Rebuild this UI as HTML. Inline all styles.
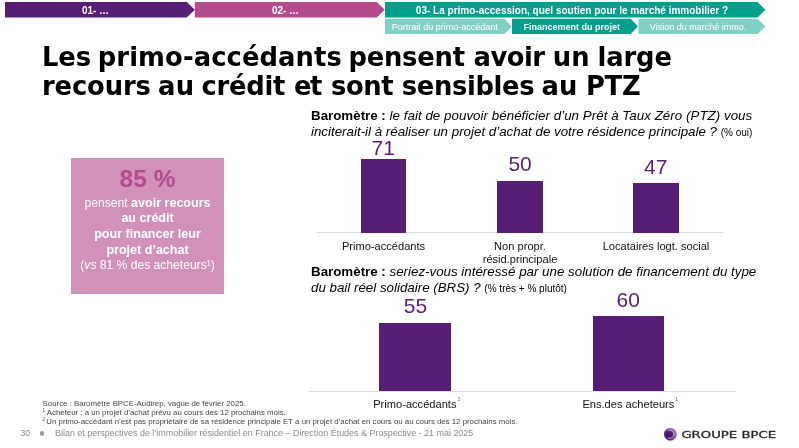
<!DOCTYPE html>
<html lang="fr">
<head>
<meta charset="utf-8">
<title>Les primo-accédants – Groupe BPCE</title>
<style>
*{margin:0;padding:0;box-sizing:border-box}
html,body{width:799px;height:448px;overflow:hidden;background:#fff}
body{position:relative;font-family:"Liberation Sans",sans-serif;color:#000}
svg{position:absolute;left:0;top:0}
.nav{font-weight:bold;font-size:10px;fill:#fff;text-anchor:middle}
.sub{font-size:9px;fill:#fff;text-anchor:middle}
h1{position:absolute;left:0;top:42.7px;width:799px;height:60px;font-family:"DejaVu Sans","Liberation Sans",sans-serif;font-weight:bold;font-size:25.8px;line-height:28.7px;white-space:nowrap}
h1 span{position:absolute}
.q{position:absolute;left:311px;font-size:13.33px;line-height:16.3px;white-space:nowrap}
.q small{font-size:10px}
.val{position:absolute;font-size:21px;color:#5a1e78;text-align:center;width:60px;line-height:20px;white-space:nowrap}
.bar{position:absolute;background:#581d74}
.axis{position:absolute;height:1px;background:#dedede}
.cat{position:absolute;font-size:11.1px;line-height:12.8px;text-align:center;width:160px;color:#111}
.cat sup{font-size:5.2px;color:#8464a6;vertical-align:top;position:relative;top:-1px;left:1px;line-height:1}
.box{position:absolute;left:71.1px;top:157.9px;width:152.9px;height:135.9px;background:#d291b9;color:#fff;text-align:center}
.box .big{position:absolute;left:0;right:0;top:164.5px;font-size:24.5px;font-weight:bold;color:#b44b8c;line-height:28px}
.box .txt{position:absolute;left:0;right:0;font-size:12.55px;line-height:15.65px}
.foot{position:absolute;left:42.6px;font-size:7.84px;color:#444;line-height:9.2px;white-space:nowrap}
.foot sup{font-size:4.5px;vertical-align:top;line-height:1;position:relative;top:1px}
.foot2{position:absolute;left:0;top:427px;font-size:8.95px;color:#8c8c8c;white-space:nowrap;line-height:12px;width:540px;height:12px}
.foot2 span{position:absolute;top:0}
</style>
</head>
<body>
<svg width="799" height="448" viewBox="0 0 799 448">
  <polygon points="5,2 186.7,2 194.8,9.75 186.7,17.5 5,17.5" fill="#581d74"/>
  <polygon points="194.8,2 376.7,2 384.8,9.75 376.7,17.5 194.8,17.5" fill="#b44b8c"/>
  <polygon points="385,2 757.5,2 765.3,9.75 757.5,17.5 385,17.5" fill="#00a08c"/>
  <polygon points="385,18.7 504.5,18.7 511.8,26.4 504.5,34.1 385,34.1" fill="#80d0c6"/>
  <polygon points="512,18.7 630.7,18.7 637.9,26.4 630.7,34.1 512,34.1" fill="#00a08c"/>
  <polygon points="638.5,18.7 757.5,18.7 765.3,26.4 757.5,34.1 638.5,34.1" fill="#80d0c6"/>
  <text class="nav" x="95.5" y="13.5">01- …</text>
  <text class="nav" x="285.5" y="13.5">02- …</text>
  <text class="nav" x="572" y="13.5">03- La primo-accession, quel soutien pour le marché immobilier ?</text>
  <text class="sub" x="444.7" y="29.8">Portrait du primo-accédant</text>
  <text class="sub" x="571.7" y="29.8" style="font-weight:bold">Financement du projet</text>
  <text class="sub" x="698" y="29.8">Vision du marché immo.</text>
</svg>

<h1><span style="left:41.9px;top:0px;letter-spacing:0.0px">Les</span> <span style="left:97.8px;top:0px;letter-spacing:0.09px">primo-accédants</span> <span style="left:348.4px;top:0px;letter-spacing:-0.2px">pensent</span> <span style="left:473.5px;top:0px;letter-spacing:-0.5px">avoir</span> <span style="left:552.8px;top:0px;letter-spacing:0.2px">un</span> <span style="left:597.4px;top:0px;letter-spacing:-0.1px">large</span>
<span style="left:41.9px;top:29.1px;letter-spacing:-0.1px">recours</span> <span style="left:158.1px;top:29.1px;letter-spacing:0.2px">au</span> <span style="left:201.5px;top:29.1px;letter-spacing:-0.24px">crédit</span> <span style="left:294.0px;top:29.1px;letter-spacing:-1.4px">et</span> <span style="left:331.0px;top:29.1px;letter-spacing:-0.4px">sont</span> <span style="left:401.7px;top:29.1px;letter-spacing:-0.33px">sensibles</span> <span style="left:541.5px;top:29.1px;letter-spacing:0.2px">au</span> <span style="left:586.0px;top:29.1px;letter-spacing:-0.3px">PTZ</span></h1>

<div class="box">
  <div class="big" style="top:6.7px">85 %</div>
  <div class="txt" style="top:37.9px"><span style="font-size:12.1px">pensent</span> <b>avoir recours<br>au crédit<br>pour financer leur<br>projet d’achat</b><br><span style="font-size:12.1px">(<i>vs</i> 81 % des acheteurs¹)</span></div>
</div>

<div class="q" style="top:108px"><b>Baromètre :</b> <i><span style="letter-spacing:0.04px">le fait de pouvoir bénéficier d’un Prêt à Taux Zéro (PTZ) vous</span><br>inciterait-il à réaliser un projet d’achat de votre résidence principale ?</i> <small>(% oui)</small></div>

<div class="axis" style="left:315.5px;top:232.1px;width:408.5px"></div>
<div class="val" style="left:353.2px;top:137.8px">71</div>
<div class="val" style="left:490.1px;top:153.8px">50</div>
<div class="val" style="left:625.8px;top:156.9px">47</div>
<div class="bar" style="left:360.8px;top:158.5px;width:45.3px;height:74.1px"></div>
<div class="bar" style="left:497px;top:180.6px;width:45.6px;height:52px"></div>
<div class="bar" style="left:633.2px;top:183.3px;width:45.7px;height:49.3px"></div>
<div class="cat" style="left:303.5px;top:240px">Primo-accédants</div>
<div class="cat" style="left:440px;top:240px">Non propr.<br>résid.principale</div>
<div class="cat" style="left:576px;top:240px">Locataires logt. social</div>

<div class="q" style="top:264.2px"><b>Baromètre :</b> <i>seriez-vous intéressé par une solution de financement du type<br>du bail réel solidaire (BRS) ?</i> <small>(% très + % plutôt)</small></div>

<div class="axis" style="left:307.7px;top:391px;width:428px"></div>
<div class="val" style="left:385.4px;top:295.8px">55</div>
<div class="val" style="left:598.2px;top:289.6px">60</div>
<div class="bar" style="left:379.2px;top:322.8px;width:71.7px;height:68.7px"></div>
<div class="bar" style="left:592.5px;top:316.1px;width:71.8px;height:75.4px"></div>
<div class="cat" style="left:336.3px;top:398px">Primo-accédants<sup>2</sup></div>
<div class="cat" style="left:549.8px;top:398px">Ens.des acheteurs<sup>1</sup></div>

<div class="foot" style="top:399px">Source : Baromètre BPCE-Audirep, vague de février 2025.<br><sup>1</sup> Acheteur : a un projet d’achat prévu au cours des 12 prochains mois.<br><sup>2 </sup>Un primo-accédant n’est pas propriétaire de sa résidence principale ET a un projet d’achat en cours ou au cours des 12 prochains mois.</div>

<div class="foot2"><span style="left:20.5px;font-size:8.6px">30</span><span style="left:39.8px;top:4.2px;width:4.4px;height:4.4px;border-radius:50%;background:#9a9a9a"></span><span style="left:55px">Bilan et perspectives de l’immobilier résidentiel en France – Direction Études &amp; Prospective - 21 mai 2025</span></div>

<svg width="799" height="448" viewBox="0 0 799 448" style="pointer-events:none">
  <defs>
    <radialGradient id="lg" cx="0.3" cy="0.62" r="0.8">
      <stop offset="0" stop-color="#431060"/>
      <stop offset="0.45" stop-color="#5f2a7a"/>
      <stop offset="0.8" stop-color="#a27bb4"/>
      <stop offset="1" stop-color="#e9deee"/>
    </radialGradient>
  </defs>
  <circle cx="670.5" cy="434.2" r="6.5" fill="url(#lg)"/>
  <path d="M668.2 430.2 a4.2 4.2 0 1 1 -0.4 7.6" fill="none" stroke="#d9c3e4" stroke-width="1" opacity="0.8"/>
  <path d="M669.2 432.6 a1.7 1.7 0 1 1 -0.2 2.6" fill="none" stroke="#3d0d58" stroke-width="0.8" opacity="0.7"/>
  <text x="681.4" y="437.6" textLength="94.6" lengthAdjust="spacingAndGlyphs" style="font-family:'DejaVu Sans','Liberation Sans',sans-serif;font-size:9px;fill:#26262c;stroke:#26262c;stroke-width:0.3px">GROUPE BPCE</text>
</svg>
</body>
</html>
